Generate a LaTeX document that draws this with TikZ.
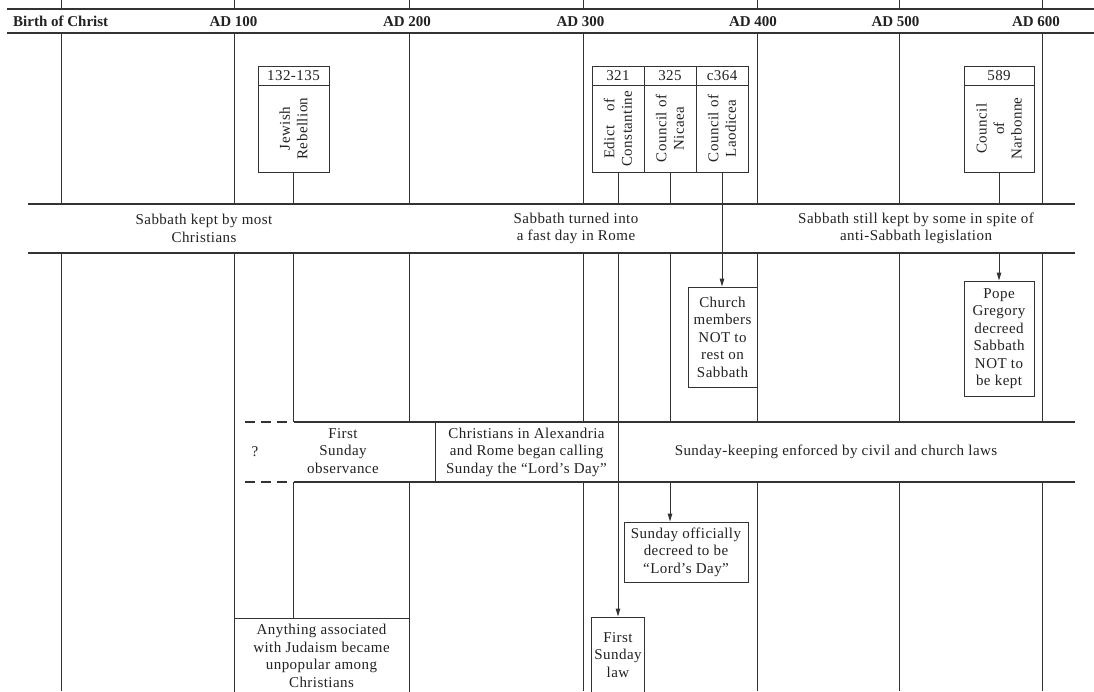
\documentclass[tikz,border=0pt]{standalone}
\usepackage{fontspec}
\setmainfont{Liberation Serif}
\newfontfamily\bodyfont{Liberation Serif}[LetterSpace=3]
\usetikzlibrary{arrows.meta}
\definecolor{lc}{HTML}{333333}
\definecolor{tc}{HTML}{222222}
\begin{document}
\begin{tikzpicture}[x=1pt,y=-1pt,
  ln/.style={draw=lc, line width=1pt},
  bandline/.style={draw=lc, line width=1.5pt},
  bx/.style={draw=lc, line width=1pt, inner sep=0pt},
  txt/.style={font=\bodyfont\fontsize{15}{17.5}\selectfont, text=tc, align=center, inner sep=0pt},
  hdr/.style={font=\bfseries\fontsize{15}{18}\selectfont, text=tc, inner sep=0pt, anchor=base},
  arr/.style={ln, -{Triangle[length=8pt,width=4.5pt]}}]
\useasboundingbox (0,0) rectangle (1094,691);
\fill[white] (0,0) rectangle (1094,691);

% band reference coordinates
\coordinate (b1t) at (0,204);
\coordinate (b1b) at (0,253);
\coordinate (b2t) at (0,422);
\coordinate (b2b) at (0,482);

% header
\draw[bandline] (7,9) -- (1094,9);
\draw[bandline] (7,33) -- (1094,33);
\foreach \x in {61,234,409,583,757,899,1042} {\draw[ln] (\x,0) -- (\x,9);}
\node[hdr, anchor=base west] (h0) at (13,26) {Birth of Christ};
\node[hdr] (h1) at (233.5,26) {AD 100};
\node[hdr] (h2) at (407,26) {AD 200};
\node[hdr] (h3) at (580.5,26) {AD 300};
\node[hdr] (h4) at (753,26) {AD 400};
\node[hdr] (h5) at (895.5,26) {AD 500};
\node[hdr] (h6) at (1036,26) {AD 600};

% column lines
\foreach \x in {61,234,409,583,757,899,1042} {\draw[ln] (\x,33) -- (\x,204);}
\foreach \x in {61,234} {\draw[ln] (\x,253) -- (\x,691);}
\foreach \x in {409,583,757,899,1042} {\draw[ln] (\x,253) -- (\x,422); \draw[ln] (\x,482) -- (\x,691);}

% bands
\draw[bandline] (28,204) -- (1075,204);
\draw[bandline] (28,253) -- (1075,253);
\draw[bandline] (293.5,422) -- (1075,422);
\draw[bandline] (293.5,482) -- (1075,482);
\draw[bandline, dash pattern=on 10pt off 6pt] (245,422) -- (288,422);
\draw[bandline, dash pattern=on 10pt off 6pt] (245,482) -- (288,482);

% top event boxes
\node[bx, txt, minimum width=71pt, minimum height=19pt] (jrn) at (293.5,75.5) {132-135};
\node[bx, minimum width=71pt, minimum height=87pt] (jr) at (293.5,128.5) {};
\node[txt, rotate=90] (jrt) at (jr.center) {Jewish\\Rebellion};

\node[bx, txt, minimum width=52pt, minimum height=19pt] (n321) at (618,75.5) {321};
\node[bx, minimum width=52pt, minimum height=87pt] (edict) at (618,128.5) {};
\node[txt, rotate=90] (edt) at (edict.center) {Edict\hspace{14pt}of\\Constantine};

\node[bx, txt, minimum width=52pt, minimum height=19pt] (n325) at (670,75.5) {325};
\node[bx, minimum width=52pt, minimum height=87pt] (nic) at (670,128.5) {};
\node[txt, rotate=90] (nict) at (nic.center) {Council of\\Nicaea};

\node[bx, txt, minimum width=52pt, minimum height=19pt] (n364) at (722,75.5) {c364};
\node[bx, minimum width=52pt, minimum height=87pt] (lao) at (722,128.5) {};
\node[txt, rotate=90] (laot) at (lao.center) {Council of\\Laodicea};

\node[bx, txt, minimum width=70pt, minimum height=19pt] (n589) at (999,75.5) {589};
\node[bx, minimum width=70pt, minimum height=87pt] (nar) at (999,128.5) {};
\node[txt, rotate=90] (nart) at (nar.center) {Council\\of\\Narbonne};

% band texts
\node[txt] (s1) at (204,228.5) {Sabbath kept by most\\Christians};
\node[txt] (s2) at (576,228.5) {Sabbath turned into\\a fast day in Rome};
\node[txt] (s3) at (916,228.5) {Sabbath still kept by some in spite of\\anti-Sabbath legislation};

\node[txt] (q) at (255,452) {?};
\node[txt] (fso) at (343,451) {First\\Sunday\\observance};
\node[bx, txt, minimum width=183pt, minimum height=60pt] (chr) at (526.5,452) {Christians in Alexandria\\and Rome began calling\\Sunday the “Lord’s Day”};
\node[txt] (ske) at (836,452) {Sunday-keeping enforced by civil and church laws};

% lower event boxes
\node[bx, txt, minimum width=69pt, minimum height=100pt] (cm) at (722.5,337) {Church\\members\\NOT to\\rest on\\Sabbath};
\node[bx, txt, minimum width=70pt, minimum height=115pt] (pg) at (999,338.5) {Pope\\Gregory\\decreed\\Sabbath\\NOT to\\be kept};
\node[bx, txt, minimum width=124pt, minimum height=60pt] (sod) at (686,552) {Sunday officially\\decreed to be\\“Lord’s Day”};
\node[bx, txt, minimum width=53pt, minimum height=76pt] (fsl) at (618,655) {First\\Sunday\\law};
\node[bx, txt, minimum width=175pt, minimum height=76pt] (any) at (321.5,656) {Anything associated\\with Judaism became\\unpopular among\\Christians};

% connectors
\draw[ln] (jr.south) -- (jr.south |- b1t);
\draw[ln] (jr.south |- b1b) -- (jr.south |- b2t);
\draw[ln] (jr.south |- b2b) -- (jr.south |- any.north);

\draw[ln] (edict.south) -- (edict.south |- b1t);
\draw[arr] (edict.south |- b1b) -- (fsl.north);

\draw[ln] (nic.south) -- (nic.south |- b1t);
\draw[ln] (nic.south |- b1b) -- (nic.south |- b2t);
\draw[arr] (nic.south |- b2b) -- (nic.south |- sod.north);

\draw[arr] (lao.south) -- (lao.south |- cm.north);

\draw[ln] (nar.south) -- (nar.south |- b1t);
\draw[arr] (nar.south |- b1b) -- (pg.north);
\end{tikzpicture}
\end{document}
